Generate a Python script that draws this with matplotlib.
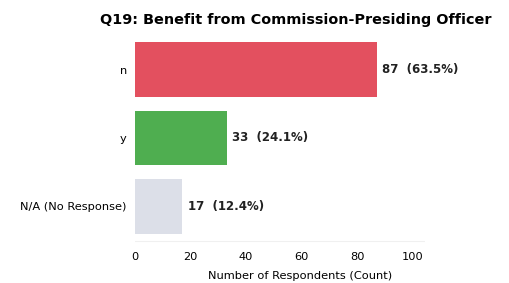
import matplotlib.pyplot as plt

categories = ['n', 'y', 'N/A (No Response)']
counts = [87, 33, 17]
percents = [63.5, 24.1, 12.4]
colors = ['#e3505f', '#4fae50', '#dcdfe8']

fig, ax = plt.subplots(figsize=(5.1, 2.83), dpi=100)
fig.subplots_adjust(left=0.265, right=0.833, bottom=0.14, top=0.885)

ax.barh(categories, counts, color=colors, height=0.8)
ax.invert_yaxis()
ax.set_xlim(0, max(counts) * 1.2)
ax.set_xticks([0, 20, 40, 60, 80, 100])

for i, (c, p) in enumerate(zip(counts, percents)):
    ax.text(c + 2, i, f'{c}  ({p}%)', va='center', ha='left',
            fontsize=8.5, fontweight='bold', color='#222222')

ax.set_title('Q19: Benefit from Commission-Presiding Officer',
             fontsize=10.4, fontweight='bold', pad=6, x=0.555)
ax.set_xlabel('Number of Respondents (Count)', fontsize=8.2, labelpad=2)
ax.xaxis.set_label_coords(0.569, -0.13)
ax.tick_params(axis='both', length=0, labelsize=8.2, pad=6)
for s in ax.spines.values():
    s.set_visible(False)
ax.axhline(2.5, color='#f0f0f0', lw=0.8)

plt.savefig('out.png')
plt.close()
